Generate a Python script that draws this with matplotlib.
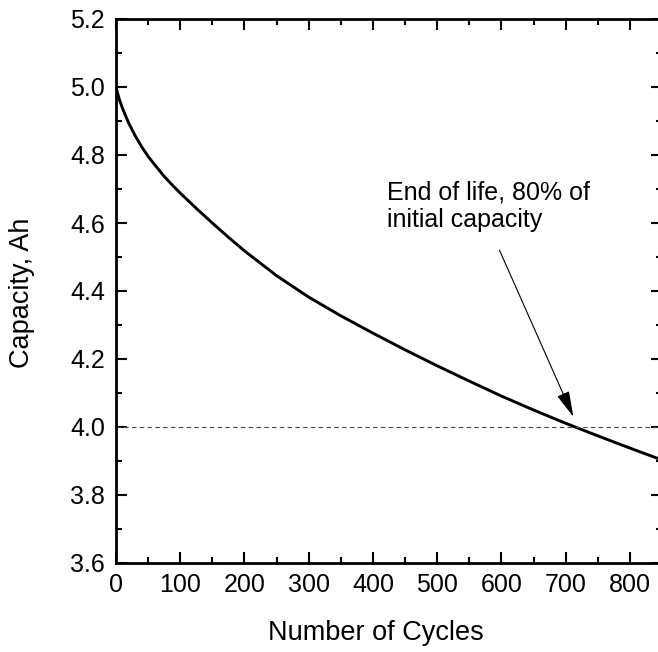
import matplotlib
matplotlib.use("Agg")
import matplotlib.pyplot as plt
from matplotlib.ticker import MultipleLocator

plt.rcParams['font.family'] = ['Liberation Sans', 'DejaVu Sans']

cycles = [0, 2, 5, 10, 15, 20, 30, 40, 50, 60, 75, 90, 100, 125, 150, 175, 200,
          250, 300, 350, 400, 450, 500, 550, 600, 650, 700, 750, 800, 850]
capacity = [5.0, 4.985, 4.965, 4.938, 4.915, 4.893, 4.856, 4.824, 4.796, 4.772,
            4.737, 4.707, 4.688, 4.643, 4.600, 4.558, 4.518, 4.445, 4.382,
            4.327, 4.276, 4.227, 4.180, 4.135, 4.091, 4.050, 4.011, 3.974,
            3.938, 3.903]
eol_capacity = 4.0
annot_text = "End of life, 80% of\ninitial capacity"
annot_tip = (712, 4.03)
annot_tail = (597, 4.52)
annot_text_pos = (422, 4.725)
x_ticks = [0, 100, 200, 300, 400, 500, 600, 700, 800]
y_ticks = [3.6, 3.8, 4.0, 4.2, 4.4, 4.6, 4.8, 5.0, 5.2]

fig = plt.figure(figsize=(6.58, 6.52), dpi=100)
W, H = 658, 652
AX_L, AX_R, AX_T, AX_B = 116, 662, 19, 563
ax = fig.add_axes([AX_L / W, (H - AX_B) / H, (AX_R - AX_L) / W, (AX_B - AX_T) / H])

ax.plot(cycles, capacity, color='black', lw=2.1, solid_joinstyle='round')
ax.axhline(eol_capacity, color='#444444', lw=0.8, ls=(0, (4, 3)))

ax.annotate("", xy=annot_tip, xytext=annot_tail,
            arrowprops=dict(arrowstyle='-|>,head_length=0.8,head_width=0.2',
                            color='black', lw=0.8, mutation_scale=20,
                            shrinkA=0, shrinkB=0))
ax.text(annot_text_pos[0], annot_text_pos[1], annot_text, fontsize=18,
        ha='left', va='top', linespacing=1.2)

ax.set_xlim(0, 850)
ax.set_ylim(3.6, 5.2)
ax.set_xticks(x_ticks)
ax.set_yticks(y_ticks)
ax.set_yticklabels([f"{t:.1f}" for t in y_ticks])
ax.xaxis.set_minor_locator(MultipleLocator(50))
ax.yaxis.set_minor_locator(MultipleLocator(0.1))

ax.tick_params(which='both', direction='in', top=True, right=True, width=1.5,
               labelsize=18)
ax.tick_params(which='major', length=8)
ax.tick_params(which='minor', length=4.5)
ax.tick_params(axis='x', which='major', pad=7)
ax.tick_params(axis='y', which='major', pad=8)
for s in ax.spines.values():
    s.set_linewidth(2)

ax.set_xlabel("Number of Cycles", fontsize=19.5)
ax.set_ylabel("Capacity, Ah", fontsize=19.5)
ax.xaxis.set_label_coords((376 - AX_L) / (AX_R - AX_L), -(620 - AX_B) / (AX_B - AX_T))
ax.yaxis.set_label_coords(-(AX_L - 35) / (AX_R - AX_L), (AX_B - 293) / (AX_B - AX_T))

fig.savefig("out.png", dpi=100)
